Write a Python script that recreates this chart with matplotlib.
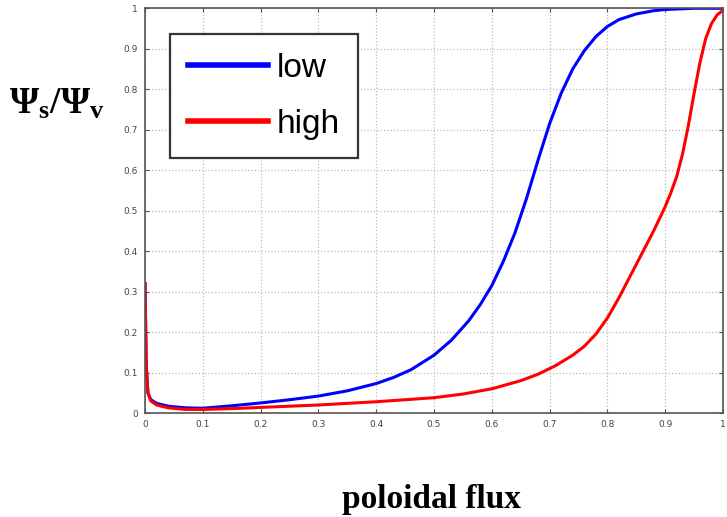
import matplotlib.pyplot as plt

plt.rcParams["mathtext.fontset"] = "custom"
plt.rcParams["mathtext.rm"] = "Liberation Serif:bold"
plt.rcParams["mathtext.it"] = "Liberation Serif:bold"
plt.rcParams["mathtext.bf"] = "Liberation Serif:bold"

# values
flux_low = [0.0, 0.002, 0.005, 0.01, 0.02, 0.04, 0.07, 0.1, 0.15, 0.2, 0.25, 0.3, 0.35,
            0.4, 0.43, 0.46, 0.5, 0.53, 0.56, 0.58, 0.6, 0.62, 0.64, 0.66, 0.68, 0.7, 0.72,
            0.74, 0.76, 0.78, 0.8, 0.82, 0.85, 0.88, 0.9, 0.95, 1.0]
psi_low = [0.32, 0.12, 0.05, 0.033, 0.024, 0.017, 0.013, 0.012, 0.018, 0.025, 0.033, 0.042, 0.055,
           0.073, 0.088, 0.107, 0.143, 0.18, 0.228, 0.268, 0.315, 0.375, 0.445, 0.53, 0.625, 0.715, 0.79,
           0.85, 0.895, 0.93, 0.955, 0.972, 0.986, 0.994, 0.997, 1.0, 1.0]

flux_high = [0.0, 0.002, 0.005, 0.01, 0.02, 0.04, 0.07, 0.1, 0.15, 0.2, 0.3, 0.4, 0.5,
             0.55, 0.6, 0.65, 0.68, 0.71, 0.74, 0.76, 0.78, 0.8, 0.82, 0.84, 0.86, 0.88, 0.9,
             0.91, 0.92, 0.93, 0.94, 0.95, 0.96, 0.97, 0.98, 0.99, 1.0]
psi_high = [0.32, 0.12, 0.05, 0.03, 0.02, 0.013, 0.009, 0.009, 0.011, 0.014, 0.02, 0.028, 0.038,
            0.047, 0.06, 0.08, 0.096, 0.117, 0.143, 0.165, 0.195, 0.235, 0.285, 0.34, 0.395, 0.45, 0.51,
            0.545, 0.585, 0.64, 0.71, 0.79, 0.865, 0.925, 0.962, 0.984, 0.995]

ticks = [0, 0.1, 0.2, 0.3, 0.4, 0.5, 0.6, 0.7, 0.8, 0.9, 1]
tick_labels = ["0", "0.1", "0.2", "0.3", "0.4", "0.5", "0.6", "0.7", "0.8", "0.9", "1"]

fig = plt.figure(figsize=(7.27, 5.17), dpi=100)
ax = fig.add_axes([0.1995, 0.201, 0.795, 0.783])

ax.plot(flux_low, psi_low, color="#0000ff", linewidth=2.2, label="low")
ax.plot(flux_high, psi_high, color="#ff0000", linewidth=2.2, label="high")

ax.set_xlim(0, 1)
ax.set_ylim(0, 1)
ax.set_xticks(ticks)
ax.set_yticks(ticks)
ax.set_xticklabels(tick_labels)
ax.set_yticklabels(tick_labels)
ax.tick_params(direction="in", length=3, labelsize=6.5, labelcolor="#444444",
               top=True, right=True, color="#555555", pad=5)
ax.grid(True, linestyle=":", color="#bbbbbb", linewidth=0.9)
for sp in ax.spines.values():
    sp.set_color("#555555")
    sp.set_linewidth(1.2)

leg = ax.legend(loc="upper left", bbox_to_anchor=(0.043, 0.936), borderaxespad=0,
                handlelength=2.4, handletextpad=0.25, borderpad=0.55, labelspacing=0.75,
                fancybox=False, framealpha=1, edgecolor="#333333",
                prop={"family": "Liberation Sans", "size": 24})
leg.get_frame().set_linewidth(1.6)
for line in leg.get_lines():
    line.set_linewidth(4)

fig.text(0.013, 0.8, r"$\Psi_{s}/\Psi_{v}$", fontsize=27, va="center", ha="left")
fig.text(0.593, 0.033, "poloidal flux", fontsize=24, family="Liberation Serif",
         fontweight="bold", ha="center", va="center")

fig.savefig("out.png", dpi=100)
